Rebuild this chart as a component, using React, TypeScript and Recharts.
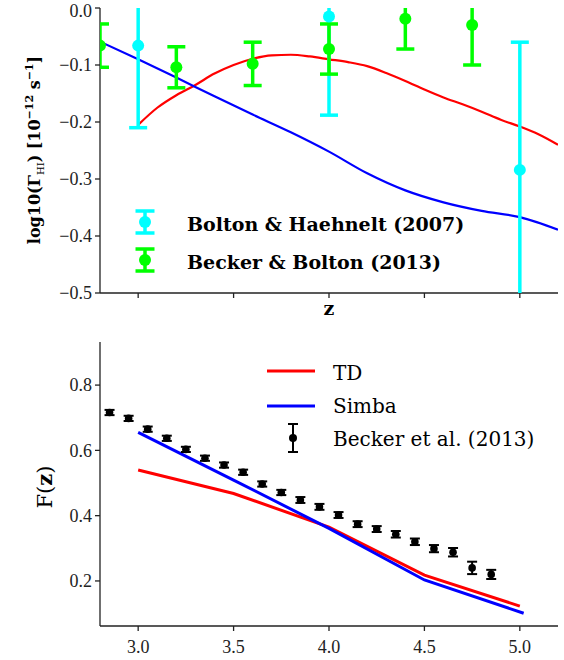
import React from 'react';
import { ComposedChart, Line, Scatter, ErrorBar, XAxis, YAxis } from 'recharts';

// top panel: log10 of the HI photoionisation rate
const bhZ = [3.0, 4.0, 5.0];
const bhLogGamma = [-0.066, -0.015, -0.284];
const bhErr = [0.144, 0.173, 0.224];

const bbZ = [2.8, 3.2, 3.6, 4.0, 4.4, 4.75];
const bbLogGamma = [-0.066, -0.104, -0.098, -0.072, -0.019, -0.03];
const bbErr = [0.038, 0.036, 0.038, 0.044, 0.053, 0.07];

const tdGammaZ = [3.0, 3.1, 3.2, 3.3, 3.4, 3.5, 3.6, 3.7, 3.8, 3.9, 4.0, 4.1, 4.2, 4.3, 4.4, 4.5, 4.6, 4.7, 4.8, 4.9, 5.0, 5.1, 5.2];
const tdGamma = [-0.205, -0.175, -0.153, -0.135, -0.115, -0.1, -0.089, -0.083, -0.082, -0.085, -0.09, -0.095, -0.102, -0.114, -0.128, -0.143, -0.157, -0.169, -0.182, -0.196, -0.208, -0.222, -0.24];

const simbaGammaZ = [2.8, 3.0, 3.2, 3.4, 3.6, 3.8, 4.0, 4.2, 4.4, 4.6, 4.8, 5.0, 5.2];
const simbaGamma = [-0.059, -0.09, -0.122, -0.155, -0.187, -0.218, -0.252, -0.29, -0.32, -0.341, -0.356, -0.367, -0.389];

// bottom panel: mean transmitted flux
const beckerZ = [2.85, 2.95, 3.05, 3.15, 3.25, 3.35, 3.45, 3.55, 3.65, 3.75, 3.85, 3.95, 4.05, 4.15, 4.25, 4.35, 4.45, 4.55, 4.65, 4.75, 4.85];
const beckerF = [0.716, 0.698, 0.665, 0.637, 0.603, 0.576, 0.555, 0.533, 0.497, 0.471, 0.448, 0.427, 0.402, 0.374, 0.359, 0.343, 0.32, 0.299, 0.288, 0.24, 0.22];
const beckerErr = [0.008, 0.008, 0.008, 0.008, 0.008, 0.008, 0.008, 0.008, 0.008, 0.008, 0.009, 0.009, 0.009, 0.009, 0.009, 0.01, 0.01, 0.011, 0.013, 0.019, 0.014];

const tdFZ = [3.0, 3.5, 4.0, 4.5, 5.0];
const tdF = [0.54, 0.468, 0.365, 0.218, 0.123];
const simbaFZ = [3.0, 3.5, 4.0, 4.5, 5.02];
const simbaF = [0.655, 0.509, 0.361, 0.203, 0.101];

const zTicks = [3.0, 3.5, 4.0, 4.5, 5.0];
const gammaTicks = [-0.5, -0.4, -0.3, -0.2, -0.1, 0];
const fTicks = [0.2, 0.4, 0.6, 0.8];

const pts = (xs: number[], ys: number[], es?: number[]) =>
  xs.map((z, i) => ({ z, v: ys[i], e: es ? es[i] : 0 }));

const SERIF = '"DejaVu Serif", "Liberation Serif", serif';
const AXIS = { stroke: '#222', strokeWidth: 1.3 };
const TICK = { fontSize: 18, fill: '#222', style: { fontFamily: '"Liberation Serif", "DejaVu Serif", serif' } };

const dot = (r: number, fill: string) => (p: any) => <circle cx={p.cx} cy={p.cy} r={r} fill={fill} />;

const fmtGamma = (v: number) => (v === 0 ? '0.0' : '\u2212' + Math.abs(v).toFixed(1));

// same plot box for both panels
const M_TOP = { top: 8, right: 6, left: 0, bottom: 7 };
const M_BOT = { top: 12, right: 6, left: 0, bottom: 4 };

// box around the plot: extra axes on top and right with no ticks
const frame = (domainX: number[]) => [
  <XAxis key="xt" xAxisId="top" orientation="top" type="number" domain={domainX} height={0}
    tick={false} tickLine={false} axisLine={AXIS} allowDataOverflow />,
  <YAxis key="yr" yAxisId="right" orientation="right" type="number" domain={[0, 1]} width={0}
    tick={false} tickLine={false} axisLine={AXIS} />,
];

const ErrIcon = ({ x, y, h, w, r, color, sw }: any) => (
  <g stroke={color} strokeWidth={sw}>
    <line x1={x} y1={y - h} x2={x} y2={y + h} />
    <line x1={x - w} y1={y - h} x2={x + w} y2={y - h} />
    <line x1={x - w} y1={y + h} x2={x + w} y2={y + h} />
    <circle cx={x} cy={y} r={r} fill={color} stroke="none" />
  </g>
);

export default function App() {
  return (
    <div style={{ position: 'absolute', left: 0, top: 0, width: 564, height: 660, background: '#fff' }}>
      <div style={{ position: 'absolute', left: 0, top: 0 }}>
        <ComposedChart width={564} height={330} margin={M_TOP}>
          <XAxis dataKey="z" type="number" domain={[2.8, 5.2]} ticks={zTicks} allowDataOverflow
            height={30} tickSize={5} tickFormatter={() => ''} axisLine={AXIS} tickLine={AXIS} />
          <YAxis type="number" domain={[-0.5, 0]} ticks={gammaTicks} allowDataOverflow width={100}
            tickSize={5} tickMargin={3} tickFormatter={fmtGamma} tick={TICK} axisLine={AXIS} tickLine={AXIS} />
          {frame([2.8, 5.2])}
          <Line data={pts(tdGammaZ, tdGamma)} dataKey="v" stroke="#ff0000" strokeWidth={2.2} dot={false}
            type="monotone" isAnimationActive={false} />
          <Line data={pts(simbaGammaZ, simbaGamma)} dataKey="v" stroke="#0000ff" strokeWidth={2.2} dot={false}
            type="monotone" isAnimationActive={false} />
        </ComposedChart>
      </div>
      {/* measurements drawn in a twin chart, clipped to the plot box */}
      <div style={{ position: 'absolute', left: 0, top: 0, clipPath: 'inset(8px 6px 37px 100px)' }}>
        <ComposedChart width={564} height={330} margin={{ top: 8, right: 6, left: 100, bottom: 37 }}>
          <XAxis dataKey="z" type="number" domain={[2.8, 5.2]} allowDataOverflow hide />
          <YAxis type="number" domain={[-0.5, 0]} allowDataOverflow hide />
          <Scatter data={pts(bhZ, bhLogGamma, bhErr)} dataKey="v" shape={dot(6, '#00ffff')} isAnimationActive={false}>
            <ErrorBar dataKey="e" direction="y" width={9} stroke="#00ffff" strokeWidth={3.5} isAnimationActive={false} />
          </Scatter>
          <Scatter data={pts(bbZ, bbLogGamma, bbErr)} dataKey="v" shape={dot(6, '#00ff00')} isAnimationActive={false}>
            <ErrorBar dataKey="e" direction="y" width={9} stroke="#00ff00" strokeWidth={3.5} isAnimationActive={false} />
          </Scatter>
        </ComposedChart>
      </div>
      <div style={{ position: 'absolute', left: 0, top: 330 }}>
        <ComposedChart width={564} height={330} margin={M_BOT}>
          <XAxis dataKey="z" type="number" domain={[2.8, 5.2]} ticks={zTicks} allowDataOverflow
            height={30} tickSize={5} tickMargin={9} tickFormatter={(v: number) => v.toFixed(1)} tick={TICK}
            axisLine={AXIS} tickLine={AXIS} />
          <YAxis type="number" domain={[0.062, 0.932]} ticks={fTicks} allowDataOverflow width={100}
            tickSize={5} tickMargin={3} tickFormatter={(v: number) => v.toFixed(1)} tick={TICK}
            axisLine={AXIS} tickLine={AXIS} />
          {frame([2.8, 5.2])}
          <Line data={pts(tdFZ, tdF)} dataKey="v" stroke="#ff0000" strokeWidth={3} dot={false}
            type="linear" isAnimationActive={false} />
          <Line data={pts(simbaFZ, simbaF)} dataKey="v" stroke="#0000ff" strokeWidth={3} dot={false}
            type="linear" isAnimationActive={false} />
          <Scatter data={pts(beckerZ, beckerF, beckerErr)} dataKey="v" shape={dot(3.8, '#000')} isAnimationActive={false}>
            <ErrorBar dataKey="e" direction="y" width={5} stroke="#000" strokeWidth={2} isAnimationActive={false} />
          </Scatter>
        </ComposedChart>
      </div>
      <svg width={564} height={660} style={{ position: 'absolute', left: 0, top: 0, pointerEvents: 'none', fontFamily: SERIF }}>
        {/* top panel labels */}
        <text transform="translate(40,150) rotate(-90)" textAnchor="middle"
          fontWeight="bold" fontSize={16} fill="#000">
          log10(Γ<tspan fontSize={10} fontWeight="normal" dy={4}>HI</tspan>
          <tspan dy={-4}>) [10</tspan>
          <tspan fontSize={11} dy={-7}>−12</tspan>
          <tspan dy={7}> s</tspan>
          <tspan fontSize={11} dy={-7}>−1</tspan>
          <tspan dy={7}>]</tspan>
        </text>
        <text x={329} y={315} textAnchor="middle" fontWeight="bold" fontSize={19}>z</text>
        <ErrIcon x={145} y={222} h={11} w={9.5} r={6} color="#00ffff" sw={3.5} />
        <ErrIcon x={145} y={260} h={11} w={9.5} r={6} color="#00ff00" sw={3.5} />
        <text x={187} y={231} fontWeight="bold" fontSize={19}>Bolton &amp; Haehnelt (2007)</text>
        <text x={187} y={269} fontWeight="bold" fontSize={19}>Becker &amp; Bolton (2013)</text>

        {/* bottom panel labels */}
        <text transform="translate(52,487) rotate(-90)" textAnchor="middle" fontSize={21}>
          F(<tspan fontWeight="bold">z</tspan>)
        </text>
        <line x1={267} y1={371} x2={315} y2={371} stroke="#ff0000" strokeWidth={3} />
        <line x1={267} y1={406} x2={315} y2={406} stroke="#0000ff" strokeWidth={3} />
        <ErrIcon x={293} y={438} h={14} w={5} r={4} color="#000" sw={2} />
        <text x={333} y={380} fontSize={20}>TD</text>
        <text x={333} y={413} fontSize={20}>Simba</text>
        <text x={333} y={446} fontSize={20}>Becker et al. (2013)</text>
      </svg>
    </div>
  );
}
